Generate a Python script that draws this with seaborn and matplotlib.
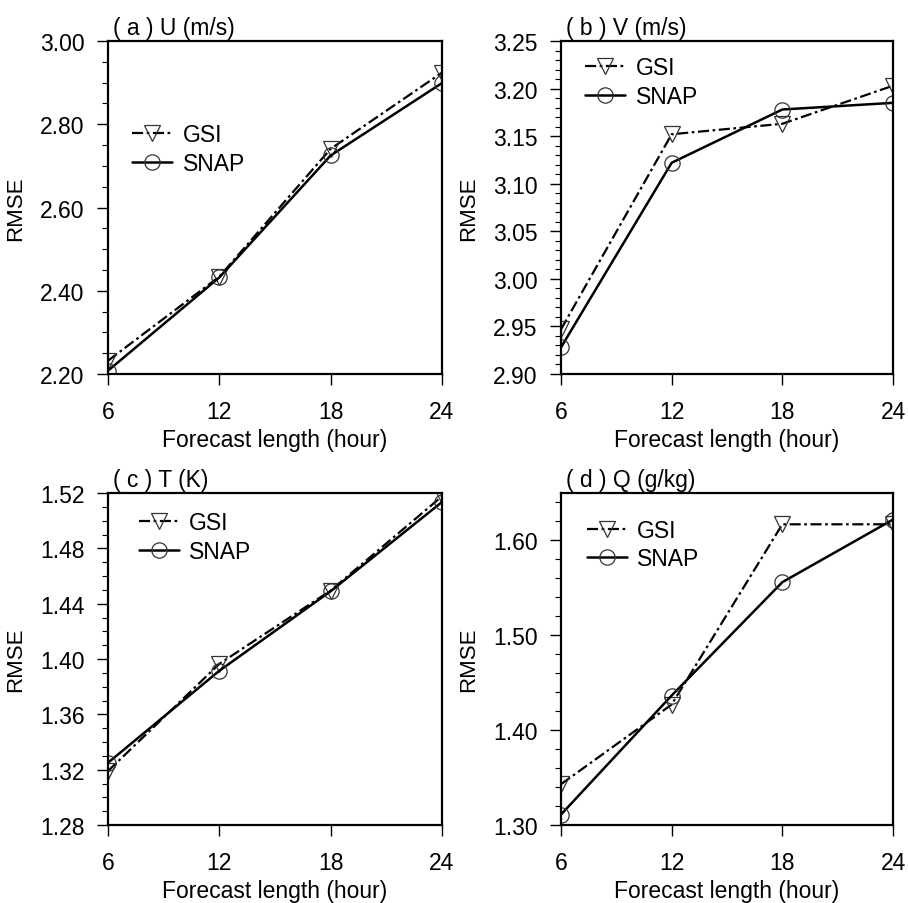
import numpy as np
import pandas as pd
import matplotlib
matplotlib.use("Agg")
import matplotlib.pyplot as plt
from matplotlib.ticker import MultipleLocator, FormatStrFormatter
import seaborn as sns

sns.set_theme(style="ticks")
plt.rcParams['font.family'] = ['Liberation Sans', 'DejaVu Sans']
plt.rcParams.update({"text.color": "black", "axes.labelcolor": "black",
                     "xtick.color": "black", "ytick.color": "black",
                     "axes.edgecolor": "black"})

hours = [6, 12, 18, 24]
series_names = ["GSI", "SNAP"]

titles = ["( a ) U (m/s)", "( b ) V (m/s)", "( c ) T (K)", "( d ) Q (g/kg)"]

u_gsi = [2.232, 2.434, 2.741, 2.924]
u_snap = [2.208, 2.432, 2.725, 2.899]
v_gsi = [2.947, 3.152, 3.163, 3.203]
v_snap = [2.928, 3.122, 3.178, 3.185]
t_gsi = [1.319, 1.3965, 1.4495, 1.5176]
t_snap = [1.325, 1.3915, 1.4490, 1.5135]
q_gsi = [1.343, 1.427, 1.617, 1.617]
q_snap = [1.311, 1.4365, 1.556, 1.622]

gsi_all = [u_gsi, v_gsi, t_gsi, q_gsi]
snap_all = [u_snap, v_snap, t_snap, q_snap]

ylims = [(2.20, 3.00), (2.90, 3.25), (1.28, 1.52), (1.30, 1.65)]
ymajor = [0.20, 0.05, 0.04, 0.10]
yminor = [0.05, 0.01, 0.01, 0.02]

# axes positions in pixels (left, top, right, bottom)
W, H = 908, 904
boxes = [(108, 42, 442, 375), (561, 42, 893, 375),
         (108, 494, 442, 826), (561, 494, 893, 826)]
legend_anchor = [(0.045, 0.78), (0.045, 0.982), (0.065, 0.972), (0.05, 0.95)]

FS = 16.5
fig = plt.figure(figsize=(W / 100, H / 100), dpi=100)

for i in range(4):
    l, t, r, b = boxes[i]
    ax = fig.add_axes([l / W, 1 - b / H, (r - l) / W, (b - t) / H])
    df = pd.DataFrame({
        "hour": hours * 2,
        "rmse": gsi_all[i] + snap_all[i],
        "exp": [series_names[0]] * 4 + [series_names[1]] * 4,
    })
    sns.lineplot(data=df[df.exp == "GSI"], x="hour", y="rmse", ax=ax,
                 color="black", lw=1.6, linestyle=(0, (5, 1.6, 1.2, 1.6)),
                 marker="v", markersize=11, markerfacecolor="none",
                 markeredgecolor="#333333", markeredgewidth=0.9,
                 label="GSI", legend=False)
    sns.lineplot(data=df[df.exp == "SNAP"], x="hour", y="rmse", ax=ax,
                 color="black", lw=1.8, linestyle="-",
                 marker="o", markersize=11, markerfacecolor="none",
                 markeredgecolor="#333333", markeredgewidth=0.9,
                 label="SNAP", legend=False)
    ax.set_xlim(6, 24)
    ax.set_ylim(*ylims[i])
    ax.set_xticks(hours)
    ax.set_xticklabels([str(h) for h in hours])
    ax.yaxis.set_major_locator(MultipleLocator(ymajor[i]))
    ax.yaxis.set_minor_locator(MultipleLocator(yminor[i]))
    ax.yaxis.set_major_formatter(FormatStrFormatter("%.2f"))
    ax.tick_params(axis="both", which="major", direction="out", length=8,
                   width=1.0, labelsize=FS, pad=9, color="black",
                   labelcolor="black")
    ax.tick_params(axis="y", which="minor", direction="out", length=4,
                   width=0.8, color="black")
    ax.tick_params(axis="x", pad=11)
    for s in ax.spines.values():
        s.set_linewidth(1.6)
        s.set_color("black")
    ax.set_xlabel("Forecast length (hour)", fontsize=FS, labelpad=3,
                  color="black")
    ax.set_ylabel("RMSE", fontsize=FS - 0.5, labelpad=10, color="black")
    ax.set_title(titles[i], loc="left", fontsize=FS, pad=5, x=0.015,
                 color="black")
    leg = ax.legend(loc="upper left", bbox_to_anchor=legend_anchor[i],
                    frameon=False, fontsize=FS, handlelength=1.75,
                    handletextpad=0.45, labelspacing=0.25, borderaxespad=0.0)
    for txt in leg.get_texts():
        txt.set_color("black")

fig.savefig("out.png", dpi=100)
